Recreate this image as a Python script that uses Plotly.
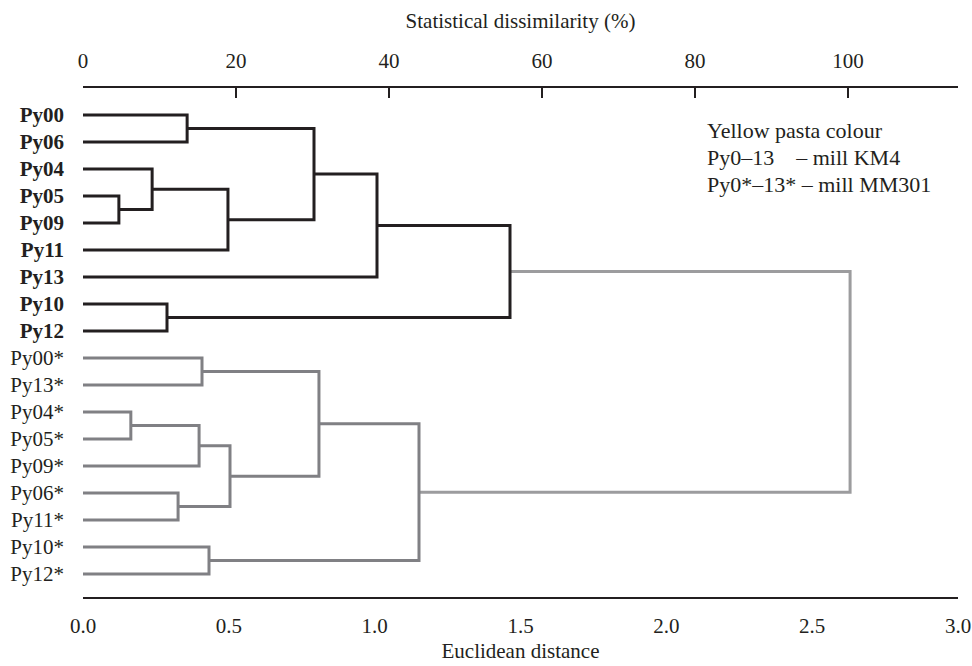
import plotly.graph_objects as go

# ---- data ----
leaves = ["Py00", "Py06", "Py04", "Py05", "Py09", "Py11", "Py13", "Py10", "Py12",
          "Py00*", "Py13*", "Py04*", "Py05*", "Py09*", "Py06*", "Py11*", "Py10*", "Py12*"]
bold_leaves = ["Py00", "Py06", "Py04", "Py05", "Py09", "Py11", "Py13", "Py10", "Py12"]

# merges: (left, right, euclidean distance, group); ints >= 100 reference merge index (100 + i)
merge_left = ["Py00", "Py05", "Py04", 102, 100, 104, "Py10", 105,
              "Py00*", "Py04*", 109, "Py06*", 110, 108, "Py10*", 113, 107]
merge_right = ["Py06", "Py09", 101, "Py11", 103, "Py13", "Py12", 106,
               "Py13*", "Py05*", "Py09*", "Py11*", 111, 112, "Py12*", 114, 115]
merge_height = [0.357, 0.123, 0.237, 0.497, 0.792, 1.008, 0.288, 1.464,
                0.408, 0.164, 0.398, 0.326, 0.504, 0.809, 0.432, 1.152, 2.630]
merge_group = ["a", "a", "a", "a", "a", "a", "a", "a",
               "b", "b", "b", "b", "b", "b", "b", "b", "c"]

max_distance = 2.623  # distance that equals 100 % dissimilarity
x_ticks = [0.0, 0.5, 1.0, 1.5, 2.0, 2.5, 3.0]
pct_ticks = [0, 20, 40, 60, 80, 100]

legend_lines = ["Yellow pasta colour", "Py0–13&nbsp;&nbsp;&nbsp; – mill KM4", "Py0*–13* – mill MM301"]

group_color = {"a": "#231f20", "b": "#808084", "c": "#9c9c9e"}

# ---- compute dendrogram coordinates ----
node_pos = {name: (0.0, i) for i, name in enumerate(leaves)}
seg_x = {"a": [], "b": [], "c": []}
seg_y = {"a": [], "b": [], "c": []}
for i, (l, r, h, g) in enumerate(zip(merge_left, merge_right, merge_height, merge_group)):
    lx, ly = node_pos[l]
    rx, ry = node_pos[r]
    seg_x[g] += [lx, h, h, rx, None]
    seg_y[g] += [ly, ly, ry, ry, None]
    node_pos[100 + i] = (h, (ly + ry) / 2)

fig = go.Figure()
for g in ["c", "b", "a"]:
    fig.add_trace(go.Scatter(x=seg_x[g], y=seg_y[g], mode="lines",
                             line=dict(color=group_color[g], width=3),
                             hoverinfo="skip", showlegend=False))
# invisible trace on top axis
fig.add_trace(go.Scatter(x=[0, 100], y=[0, 0], xaxis="x2", mode="markers",
                         marker=dict(opacity=0), hoverinfo="skip", showlegend=False))

FONT = "Liberation Serif"
FS = 21
ticktext = [f"<b>{n}</b>" if n in bold_leaves else n for n in leaves]

fig.update_layout(
    width=972, height=666,
    margin=dict(l=83, r=14, t=88, b=69, autoexpand=False),
    paper_bgcolor="white", plot_bgcolor="white",
    font=dict(family=FONT, size=FS, color="#231f20"),
    xaxis=dict(range=[0, 3.0], tickvals=x_ticks, ticktext=[f"{v:.1f}" for v in x_ticks],
               showgrid=False, zeroline=False, showline=True, linecolor="#231f20",
               linewidth=2, ticks="", ticklabelstandoff=9, automargin=False,
               title=dict(text="Euclidean distance", standoff=6, font=dict(size=FS))),
    xaxis2=dict(range=[0, 3.0 / max_distance * 100], overlaying="x", side="top",
                tickvals=pct_ticks, showgrid=False, zeroline=False, showline=True,
                linecolor="#231f20", linewidth=2, ticks="inside", ticklen=10,
                tickcolor="#231f20", tickwidth=1.5, ticklabelstandoff=10, automargin=False,
                title=dict(text="Statistical dissimilarity (%)", standoff=14, font=dict(size=FS))),
    yaxis=dict(range=[17.85, -1], tickvals=list(range(len(leaves))), ticktext=ticktext,
               showgrid=False, zeroline=False, showline=False, ticks="", automargin=False,
               ticklabelstandoff=18, tickfont=dict(size=FS, color="#231f20")),
)

for k, t in enumerate(legend_lines):
    fig.add_annotation(x=(705 - 83) / 875 * 3.0, y=(130 + 27 * k - 115) / 27.0,
                       xref="x", yref="y", text=t, showarrow=False,
                       xanchor="left", yanchor="middle", font=dict(size=FS + 1))

fig.write_html("out.html", config={"displayModeBar": False},
               post_script="document.body.style.margin='0px';")
